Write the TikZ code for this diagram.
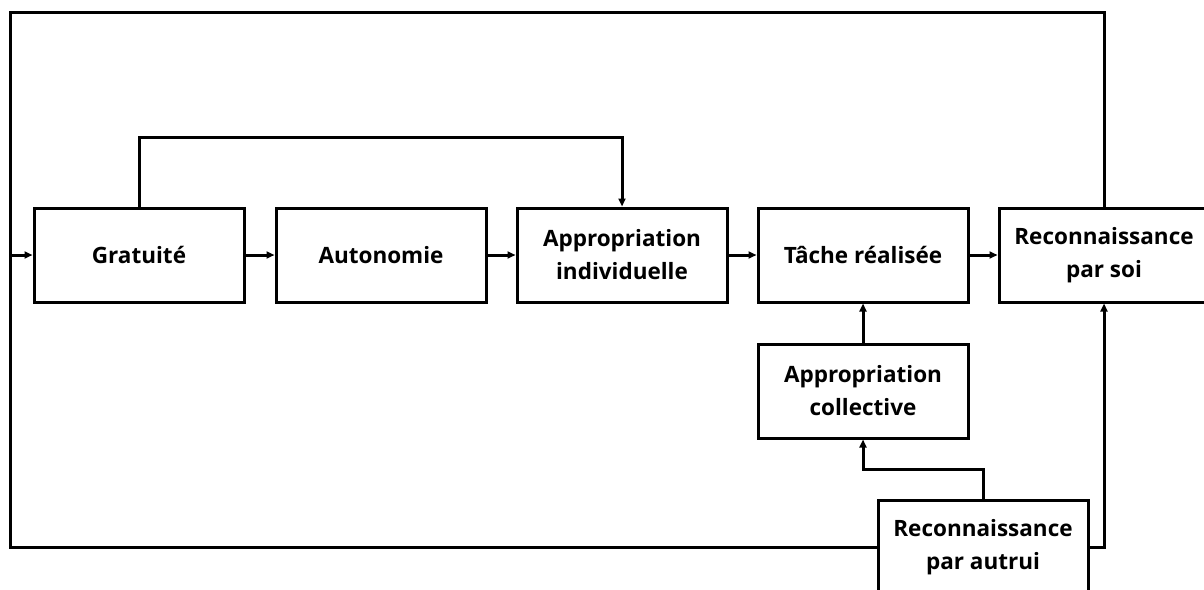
\documentclass[tikz,border=0pt]{standalone}
\usepackage{fontspec}
\setmainfont{Open Sans}
\usetikzlibrary{arrows.meta}
\begin{document}
\begin{tikzpicture}[x=1pt,y=-1pt,
  box/.style={draw,line width=3pt,rectangle,minimum width=210pt,minimum height=94pt,
    align=center,font=\fontsize{22.5}{33}\selectfont\bfseries,inner sep=0pt},
  conn/.style={line width=3pt},
  arr/.style={conn,-{Triangle[length=8pt,width=7pt]}}]
\useasboundingbox (0,0) rectangle (1204,589);
\clip (0,0) rectangle (1204,589);
\fill[white] (0,0) rectangle (1204,589);
\node[box] (g) at (139,255) {Gratuité};
\node[box] (a) at (381,255) {Autonomie};
\node[box] (i) at (622,255) {Appropriation\\individuelle};
\node[box] (t) at (863,255) {Tâche réalisée};
\node[box] (s) at (1104,255) {Reconnaissance\\par soi};
\node[box] (c) at (863,391) {Appropriation\\collective};
\node[box] (r) at (983,547) {Reconnaissance\\par autrui};
\coordinate (tl) at (10,12);
\coordinate (up) at (0,137);
\coordinate (mid) at (0,469);
\draw[arr] (g) -- (a);
\draw[arr] (a) -- (i);
\draw[arr] (i) -- (t);
\draw[arr] (t) -- (s);
\draw[arr] (c) -- (t);
\draw[arr] (g.north) -- (g.north |- up) -| (i.north);
\draw[arr] (r.north) -- (r.north |- mid) -| (c.south);
\draw[conn] (s.north) |- (tl) |- (r.west);
\draw[arr] (tl |- g.west) -- (g.west);
\draw[arr] (r.east) -| (s.south);
\end{tikzpicture}
\end{document}
